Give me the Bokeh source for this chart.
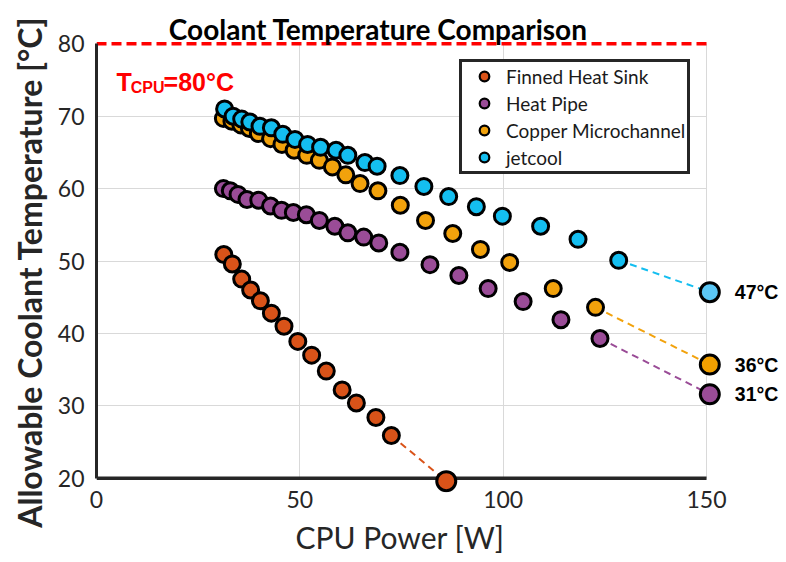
from bokeh.plotting import figure
from bokeh.models import Range1d, FixedTicker, Label, Legend, LegendItem, BoxAnnotation, Title
from bokeh.core.properties import value
from bokeh.embed import file_html
from bokeh.resources import INLINE

# ---------------- data ----------------
title_text = "Coolant Temperature Comparison"
x_label = "CPU Power [W]"
y_label = "Allowable Coolant Temperature [°C]"
x_ticks = [0, 50, 100, 150]
y_ticks = [20, 30, 40, 50, 60, 70, 80]
t_cpu = 80

series_names = ["Finned Heat Sink", "Heat Pipe", "Copper Microchannel", "jetcool"]
series_colors = ["#D95319", "#9A4C97", "#F2A20C", "#14BEF0"]
end_colors = ["#D95319", "#9A4C97", "#F2A000", "#5BC7F5"]

finned_power = [31.3, 33.4, 35.7, 37.9, 40.3, 43.0, 46.1, 49.5, 52.9, 56.5, 60.4, 63.9, 68.7, 72.5]
finned_temp = [50.9, 49.6, 47.5, 46.0, 44.5, 42.8, 41.0, 38.9, 37.0, 34.8, 32.2, 30.4, 28.4, 25.9]

pipe_power = [31.2, 32.9, 34.8, 37.0, 39.9, 42.8, 45.5, 48.4, 51.6, 54.8, 58.6, 61.8, 65.7, 69.4,
              74.6, 82.0, 89.1, 96.3, 104.9, 114.2, 123.8]
pipe_temp = [60.0, 59.7, 59.2, 58.5, 58.4, 57.6, 57.0, 56.7, 56.4, 55.6, 54.8, 53.9, 53.3, 52.5,
             51.2, 49.5, 48.0, 46.2, 44.4, 41.9, 39.3]

copper_power = [31.2, 33.3, 35.5, 37.6, 39.8, 42.8, 45.6, 48.6, 51.7, 54.8, 58.0, 61.3, 64.8, 69.2,
                74.7, 80.9, 87.6, 94.4, 101.6, 112.3, 122.7]
copper_temp = [69.7, 69.3, 68.8, 68.3, 67.6, 66.9, 66.1, 65.3, 64.6, 63.9, 63.0, 61.9, 60.7, 59.7,
               57.7, 55.6, 53.8, 51.6, 49.8, 46.2, 43.6]

jet_power = [31.5, 33.6, 35.7, 37.7, 40.2, 43.0, 45.8, 48.8, 51.9, 55.1, 58.9, 61.8, 66.0, 69.0,
             74.6, 80.5, 86.6, 93.4, 99.8, 109.2, 118.4, 128.4]
jet_temp = [71.0, 70.0, 69.6, 69.2, 68.6, 68.4, 67.5, 66.8, 66.1, 65.7, 65.3, 64.6, 63.6, 63.1,
            61.8, 60.3, 58.9, 57.5, 56.2, 54.8, 53.0, 50.1]

# extrapolated end points (x, y) and their labels
end_power = [86.0, 150.8, 150.8, 150.8]
end_temp = [19.6, 31.6, 35.7, 45.7]
end_labels = ["", "31°C", "36°C", "47°C"]

powers = [finned_power, pipe_power, copper_power, jet_power]
temps = [finned_temp, pipe_temp, copper_temp, jet_temp]

# ---------------- figure ----------------
W, H = 786, 562
p = figure(width=W, height=H, output_backend="svg", toolbar_location=None,
           x_range=Range1d(0, 169.66), y_range=Range1d(18.03, 85.98),
           min_border_left=96, min_border_right=0, min_border_top=0, min_border_bottom=70)
p.outline_line_color = None
p.background_fill_color = "white"
p.border_fill_color = "white"

GRID = "#D9D9D9"
DARK = "#262626"
xg = p.xgrid[0]
yg = p.ygrid[0]
for g in (xg, yg):
    g.grid_line_color = GRID
    g.grid_line_width = 1
xg.ticker = FixedTicker(ticks=x_ticks[1:])
yg.ticker = FixedTicker(ticks=y_ticks[1:-1])

has_cb = "cross_bounds" in xg.properties()
if has_cb:
    xg.cross_bounds = (y_ticks[0], y_ticks[-1])
    yg.cross_bounds = (x_ticks[0], x_ticks[-1])
else:
    p.add_layout(BoxAnnotation(left=x_ticks[-1] + 0.25, fill_color="white", fill_alpha=1,
                               line_color=None, level="underlay"))
    p.add_layout(BoxAnnotation(top=y_ticks[0] - 0.05, fill_color="white", fill_alpha=1,
                               line_color=None, level="underlay"))
    p.add_layout(BoxAnnotation(bottom=y_ticks[-1], fill_color="white", fill_alpha=1,
                               line_color=None, level="underlay"))

# axes
xa = p.xaxis[0]
ya = p.yaxis[0]
xa.ticker = FixedTicker(ticks=x_ticks)
ya.ticker = FixedTicker(ticks=y_ticks)
xa.bounds = (x_ticks[0], x_ticks[-1])
ya.bounds = (y_ticks[0], y_ticks[-1])
xa.axis_line_color = None
ya.axis_line_color = DARK
ya.axis_line_width = 3
for ax in (xa, ya):
    ax.major_tick_line_color = None
    ax.minor_tick_line_color = None
    ax.major_label_text_font = "Lato"
    ax.major_label_text_font_size = "23px"
    ax.major_label_text_color = "#262626"
xa.major_label_standoff = -8
ya.major_label_standoff = 6

# axis titles, placed along the plotted spans
p.add_layout(Title(text=y_label, align="right", offset=16, standoff=12,
                   text_font="Lato", text_font_size="32px", text_font_style="bold",
                   text_color="#262626"), "left")
p.add_layout(Title(text=x_label, align="left", offset=199, standoff=12,
                   vertical_align="bottom",
                   text_font="Lato", text_font_size="30px", text_font_style="normal",
                   text_color="#262626"), "below")

# manual x axis line at y = 20 (so the frame can hold the marker that sits on it)
p.line(x=[x_ticks[0], x_ticks[-1]], y=[y_ticks[0], y_ticks[0]], line_color=DARK, line_width=3.5)

# CPU temperature limit
p.line(x=[x_ticks[0], x_ticks[-1]], y=[t_cpu, t_cpu], line_color="#FF0000", line_width=3.5,
       line_dash="10 5")

# series
legend_items = []
for name, xs, ys, c, ec, ex, ey, lab in zip(series_names, powers, temps, series_colors,
                                            end_colors, end_power, end_temp, end_labels):
    # small marker used for the legend swatch (sits hidden under the first data point)
    lr = p.scatter(x=xs[:1], y=ys[:1], size=8, fill_color=c, line_color="black", line_width=2.2)
    legend_items.append(LegendItem(label=name, renderers=[lr]))
    p.line(x=[xs[-1], ex], y=[ys[-1], ey], line_color=c, line_width=2, line_dash="7 5")
    p.scatter(x=xs, y=ys, size=16, fill_color=c, line_color="black", line_width=3)
    p.scatter(x=[ex], y=[ey], size=19, fill_color=ec, line_color="black", line_width=3)
    if lab:
        p.add_layout(Label(x=ex, y=ey, text=lab, x_offset=25, text_baseline="middle",
                           text_font="Liberation Sans", text_font_style="bold",
                           text_font_size="19.5px", text_color="black"))

legend = Legend(items=legend_items, location=(363, 318))
legend.border_line_color = DARK
legend.border_line_width = 3
legend.border_line_alpha = 1
legend.background_fill_color = "white"
legend.background_fill_alpha = 1
legend.padding = 2
legend.spacing = 3
legend.margin = 0
legend.glyph_width = 40
legend.glyph_height = 24
legend.label_height = 24
legend.label_standoff = 2
legend.label_text_font = "Lato"
legend.label_text_font_size = "19px"
legend.label_text_color = "#1a1a1a"
p.add_layout(legend)

# T_CPU annotation
red_font = dict(text_font="Liberation Sans", text_font_style="bold", text_color="#FF0000",
                text_baseline="alphabetic")
p.add_layout(Label(x=4.9, y=74.7, text="T", text_font_size="25px", **red_font))
p.add_layout(Label(x=8.4, y=74.0, text="CPU", text_font_size="16px", **red_font))
p.add_layout(Label(x=16.5, y=74.7, text="=80°C", text_font_size="25px", **red_font))

# title
p.add_layout(Label(x=69.3, y=82.1, text=title_text, text_align="center",
                   text_baseline="alphabetic", text_font="Lato", text_font_style="bold",
                   text_font_size="28px", text_color="black"))

open("out.html", "w").write(file_html(p, INLINE))
